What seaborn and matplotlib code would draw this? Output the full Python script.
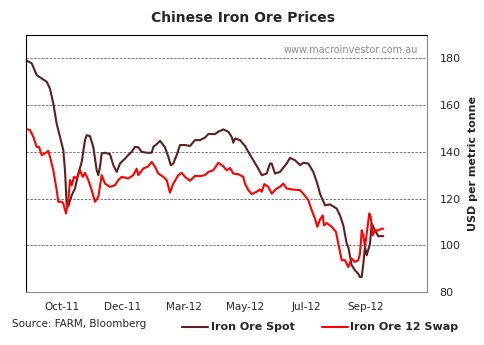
import matplotlib
matplotlib.use("Agg")
import matplotlib.pyplot as plt
import seaborn as sns
import pandas as pd

# ---- data (x = trading-day position along the category axis) ----
spot_day = [0.7, 5.7, 10.7, 15.7, 20.7, 24, 27.3, 30.7, 34, 37.3,
            39, 40.7, 42.3, 45.7, 49, 52.3, 55.7, 59, 60.7, 64,
            67.3, 70.7, 72.3, 74, 75.7, 79, 84, 87.3, 90.7, 94,
            99, 102.3, 105.7, 109, 112.3, 115.7, 120.7, 125.7, 127.3, 130.7,
            134, 137.3, 139, 142.3, 144.7, 147.3, 150.7, 154, 159, 164,
            169, 174, 179, 182.3, 189, 192.3, 197.3, 202.3, 205.7, 207.3,
            209, 214, 219, 222.3, 227.3, 232.3, 235.7, 240.7, 244, 245.7,
            249, 254, 260.7, 264, 269, 274, 277.3, 282.3, 287.3, 291.3,
            294, 299, 304, 310.7, 314, 317.3, 320.7, 322.3, 325.7, 329,
            332.3, 334, 335.7, 337.3, 339, 340.7, 344, 345.7, 349, 352.3, 357.3]
spot = [179.0, 177.9, 172.8, 171.4, 170.0, 167.0, 160.7, 152.0, 146.4, 140.7,
        132.0, 117.5, 116.7, 121.4, 124.3, 130.7, 135.7, 145.0, 147.1, 146.7,
        142.1, 132.1, 130.0, 133.6, 139.3, 139.6, 139.0, 134.3, 131.4, 135.0,
        137.1, 138.6, 140.0, 142.1, 141.9, 140.0, 139.6, 139.6, 142.1, 143.3,
        144.7, 142.9, 141.9, 137.9, 134.3, 135.0, 138.6, 142.9, 142.9, 142.5,
        145.0, 145.0, 146.1, 147.6, 147.6, 148.6, 149.6, 148.6, 146.4, 143.9,
        145.7, 145.0, 142.5, 140.0, 136.4, 132.8, 130.0, 130.7, 135.0, 135.0,
        130.7, 131.4, 135.0, 137.4, 136.4, 134.3, 135.3, 135.0, 131.4, 126.4,
        122.1, 117.1, 117.5, 115.7, 112.8, 108.5, 100.7, 99.3, 91.4, 89.3,
        87.8, 86.4, 86.4, 92.1, 99.3, 95.7, 100.7, 109.3, 106.4, 103.9, 103.9]

swap_day = [0.7, 4, 7.3, 10.7, 13, 15.7, 19, 22.3, 24, 27.3,
            30.7, 32.3, 35.7, 37.3, 40, 42.3, 44, 45.7, 48, 50.7,
            54, 56.7, 59, 62.3, 65.7, 69, 72.3, 75.7, 79, 84,
            89, 92.3, 95.7, 102.3, 107.3, 110.7, 112.3, 117.3, 122.3, 125.7,
            129, 132.3, 137.3, 140.7, 144, 147.3, 152.3, 155.7, 159, 164,
            169, 174, 179, 182.3, 187.3, 192.3, 197.3, 200.7, 204, 207.3,
            212.3, 217.3, 219, 222.3, 225.7, 230.7, 234, 235.7, 238.3, 242.3,
            245.7, 250.7, 254, 257.3, 260.7, 265.7, 274, 277.3, 282.3, 285.7,
            289, 291.3, 294, 296.7, 298, 300.7, 305.7, 310, 312.3, 315.7,
            319, 322.3, 325.7, 329, 332.3, 334, 335.7, 337.3, 339, 340.7,
            343.3, 344.7, 346.7, 349, 352.3, 355.7, 357.3]
swap = [149.7, 149.3, 146.4, 142.1, 142.1, 138.6, 139.3, 140.4, 137.9, 132.1,
        123.6, 118.6, 118.6, 117.9, 113.6, 119.3, 127.9, 125.7, 129.3, 128.6,
        132.1, 129.3, 131.0, 127.9, 123.6, 118.6, 120.7, 130.0, 126.4, 125.0,
        125.7, 127.9, 129.3, 128.6, 130.0, 132.8, 130.0, 132.8, 133.8, 135.7,
        133.6, 130.7, 129.3, 127.9, 122.5, 126.4, 130.0, 131.0, 129.3, 127.6,
        129.7, 129.6, 130.0, 131.4, 132.1, 135.3, 133.8, 132.1, 133.1, 130.7,
        130.4, 129.3, 126.4, 123.6, 121.9, 122.9, 123.9, 122.9, 126.2, 125.0,
        122.1, 124.3, 125.0, 126.4, 124.3, 123.9, 123.6, 122.1, 119.3, 115.0,
        111.4, 107.9, 111.0, 112.8, 108.5, 109.5, 107.9, 105.7, 100.7, 93.6,
        93.6, 90.7, 94.3, 92.9, 93.6, 96.4, 106.4, 104.3, 99.3, 105.0,
        113.6, 112.2, 104.3, 106.4, 106.4, 107.1, 107.1]

tick_pos = [36, 97, 158, 219, 280, 340]
tick_labels = ["Oct-11", "Dec-11", "Mar-12", "May-12", "Jul-12", "Sep-12"]
y_ticks = [80, 100, 120, 140, 160, 180]

SPOT_C = "#5E1F1F"
SWAP_C = "#FF0000"

sns.set_theme(style="white")
plt.rcParams["font.family"] = ["DejaVu Sans"]

fig = plt.figure(figsize=(4.85, 3.45), dpi=100)
ax = fig.add_axes([26 / 485, 1 - 292 / 345, (427 - 26) / 485, (292 - 35) / 345])

df_spot = pd.DataFrame({"day": spot_day, "value": spot})
df_swap = pd.DataFrame({"day": swap_day, "value": swap})
sns.lineplot(data=df_spot, x="day", y="value", ax=ax, color=SPOT_C, linewidth=1.5)
sns.lineplot(data=df_swap, x="day", y="value", ax=ax, color=SWAP_C, linewidth=1.5)

ax.set_xlim(0, 401)
ax.set_ylim(80, 190)
ax.set_xticks(tick_pos)
ax.set_xticklabels(tick_labels, fontsize=7.5)
ax.set_yticks(y_ticks)
ax.yaxis.tick_right()
ax.yaxis.set_label_position("right")
ax.tick_params(axis="y", labelsize=8, length=0, pad=9)
ax.tick_params(axis="x", length=0, pad=7)
ax.set_xlabel("")
ax.set_ylabel("USD per metric tonne", fontsize=8, fontweight="bold", labelpad=5)

for v in y_ticks[1:]:
    ax.axhline(v, color="#6F7C7C", linestyle=(0, (2.5, 1.5)), linewidth=0.7, zorder=0)

ax.spines["left"].set_color("black")
ax.spines["top"].set_color("black")
ax.spines["right"].set_color("#888888")
ax.spines["bottom"].set_color("#888888")
for s in ax.spines.values():
    s.set_linewidth(0.8)

ax.text(0.978, 0.96, "www.macroinvestor.com.au", transform=ax.transAxes,
        ha="right", va="top", fontsize=7, color="#8C8C8C")

fig.text(243 / 485, 1 - 18 / 345, "Chinese Iron Ore Prices", ha="center", va="center",
         fontsize=10, fontweight="bold")
fig.text(12 / 485, 1 - 324 / 345, "Source: FARM, Bloomberg", ha="left", va="center",
         fontsize=7.5)

# legend
ly = 1 - 327 / 345
fig.add_artist(plt.Line2D([182 / 485, 208 / 485], [ly, ly], color=SPOT_C, linewidth=1.5))
fig.text(211 / 485, ly, "Iron Ore Spot", ha="left", va="center", fontsize=8, fontweight="bold")
fig.add_artist(plt.Line2D([322 / 485, 348 / 485], [ly, ly], color=SWAP_C, linewidth=1.5))
fig.text(350 / 485, ly, "Iron Ore 12 Swap", ha="left", va="center", fontsize=8, fontweight="bold")

fig.savefig("out.png", dpi=100)
